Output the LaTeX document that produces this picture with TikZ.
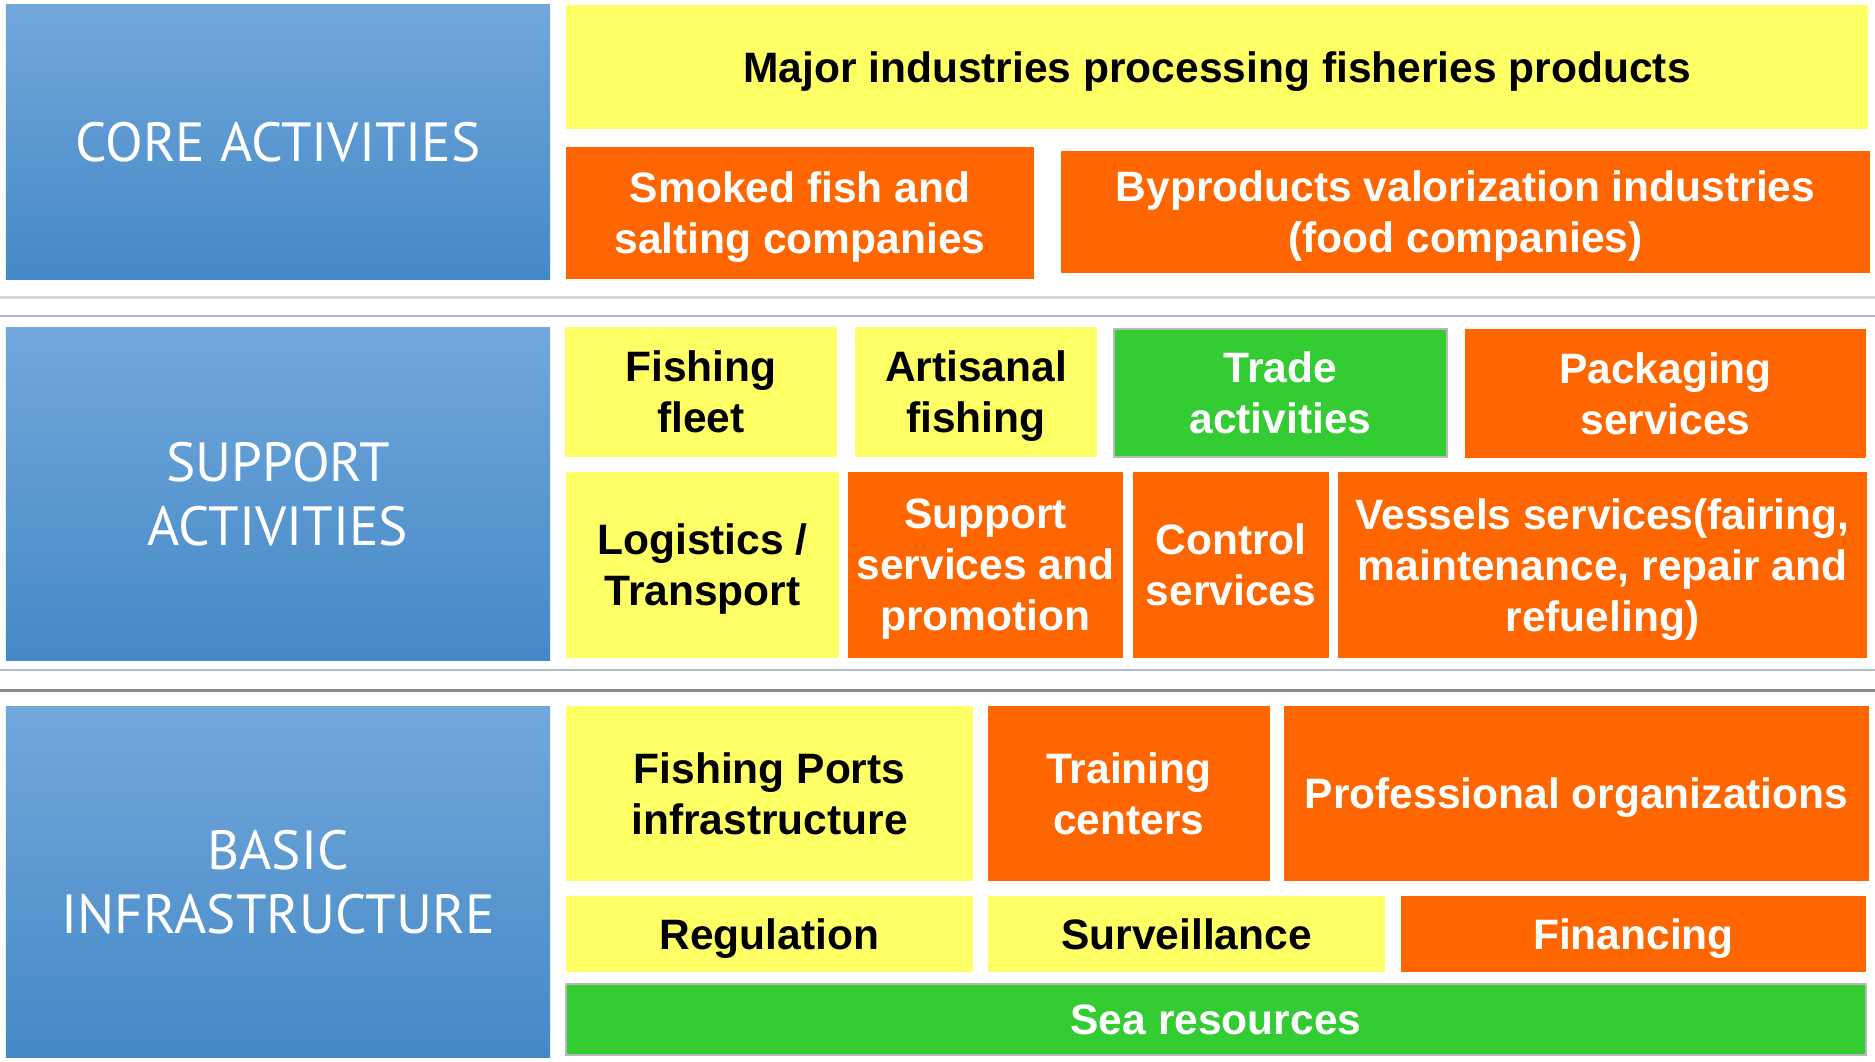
\documentclass[tikz,border=0pt]{standalone}
\usepackage{fontspec}
\setmainfont{Liberation Sans}
\newfontfamily\headfont{PT Sans}
\usepackage{tikz}
\definecolor{boxyellow}{HTML}{FFFF66}
\definecolor{boxorange}{HTML}{FF6600}
\definecolor{boxgreen}{HTML}{33CC33}
\definecolor{bluetop}{HTML}{72A7DB}
\definecolor{bluebot}{HTML}{4489C7}
\tikzset{
  cell/.style={inner sep=0pt, align=center, text depth=0pt, font=\bfseries\fontsize{12.1}{14.5}\selectfont},
  ylw/.style={cell, fill=boxyellow, text=black},
  org/.style={cell, fill=boxorange, text=white},
  grn/.style={cell, fill=boxgreen, text=white, draw=gray!55, line width=0.4pt},
  level/.style={inner sep=0pt, align=center, text depth=0pt, text=white, top color=bluetop, bottom color=bluebot,
    minimum width=5.44cm, font=\headfont\fontsize{15.7}{18.2}\selectfont}
}

\begin{document}
\begin{tikzpicture}
			\useasboundingbox (0,0) rectangle (18.75,-10.62);
			% separators
			\draw[line width=0.03cm, gray!30] (0,-2.975) -- (18.75,-2.975);
			\draw[line width=0.025cm, color={rgb,255:red,175;green,187;blue,203}] (0,-3.16) -- (18.75,-3.16);
			\draw[line width=0.025cm, color={rgb,255:red,175;green,187;blue,203}] (0,-6.70) -- (18.75,-6.70);
			\draw[line width=0.03cm, gray!85!black!80] (0,-6.905) -- (18.75,-6.905);
			% levels
			\node[level, minimum height=2.75cm] (core) at (2.78,-1.415) {CORE ACTIVITIES};
			\node[level, minimum height=3.33cm] (support) at (2.78,-4.935) {SUPPORT\\ACTIVITIES};
			\node[level, minimum height=3.51cm] (basic) at (2.78,-8.815) {BASIC\\INFRASTRUCTURE};
			% core activities
			\node[ylw, minimum width=13.02cm, minimum height=1.24cm] (major) at (12.17,-0.67) {Major industries processing fisheries products};
			\node[org, minimum width=4.68cm, minimum height=1.32cm] (smoked) at (8.00,-2.13) {Smoked fish and\\salting companies};
			\node[org, minimum width=8.09cm, minimum height=1.22cm] (byprod) at (14.655,-2.12) {Byproducts valorization industries\\(food companies)};
			% support activities
			\node[ylw, minimum width=2.72cm, minimum height=1.30cm] (fleet) at (7.01,-3.92) {Fishing\\fleet};
			\node[ylw, minimum width=2.42cm, minimum height=1.30cm] (artisanal) at (9.76,-3.92) {Artisanal\\fishing};
			\node[grn, minimum width=3.33cm, minimum height=1.28cm] (trade) at (12.805,-3.93) {Trade\\activities};
			\node[org, minimum width=4.01cm, minimum height=1.29cm] (packaging) at (16.655,-3.935) {Packaging\\services};
			\node[ylw, minimum width=2.73cm, minimum height=1.86cm] (logistics) at (7.025,-5.65) {Logistics /\\Transport};
			\node[org, minimum width=2.75cm, minimum height=1.86cm] (promotion) at (9.855,-5.65) {Support\\services and\\promotion};
			\node[org, minimum width=1.96cm, minimum height=1.86cm] (control) at (12.31,-5.65) {Control\\services};
			\node[org, minimum width=5.29cm, minimum height=1.86cm] (vessels) at (16.025,-5.65) {Vessels services(fairing,\\maintenance, repair and\\refueling)};
			% basic infrastructure
			\node[ylw, minimum width=4.07cm, minimum height=1.75cm] (ports) at (7.695,-7.935) {Fishing Ports\\infrastructure};
			\node[org, minimum width=2.82cm, minimum height=1.75cm] (training) at (11.29,-7.935) {Training\\centers};
			\node[org, minimum width=5.85cm, minimum height=1.75cm] (proforg) at (15.765,-7.935) {Professional organizations};
			\node[ylw, minimum width=4.07cm, minimum height=0.76cm] (regulation) at (7.695,-9.34) {Regulation};
			\node[ylw, minimum width=3.97cm, minimum height=0.76cm] (surveillance) at (11.865,-9.34) {Surveillance};
			\node[org, minimum width=4.65cm, minimum height=0.76cm] (financing) at (16.335,-9.34) {Financing};
			\node[grn, minimum width=13.0cm, minimum height=0.71cm] (sea) at (12.16,-10.195) {Sea resources};
		\end{tikzpicture}
\end{document}
